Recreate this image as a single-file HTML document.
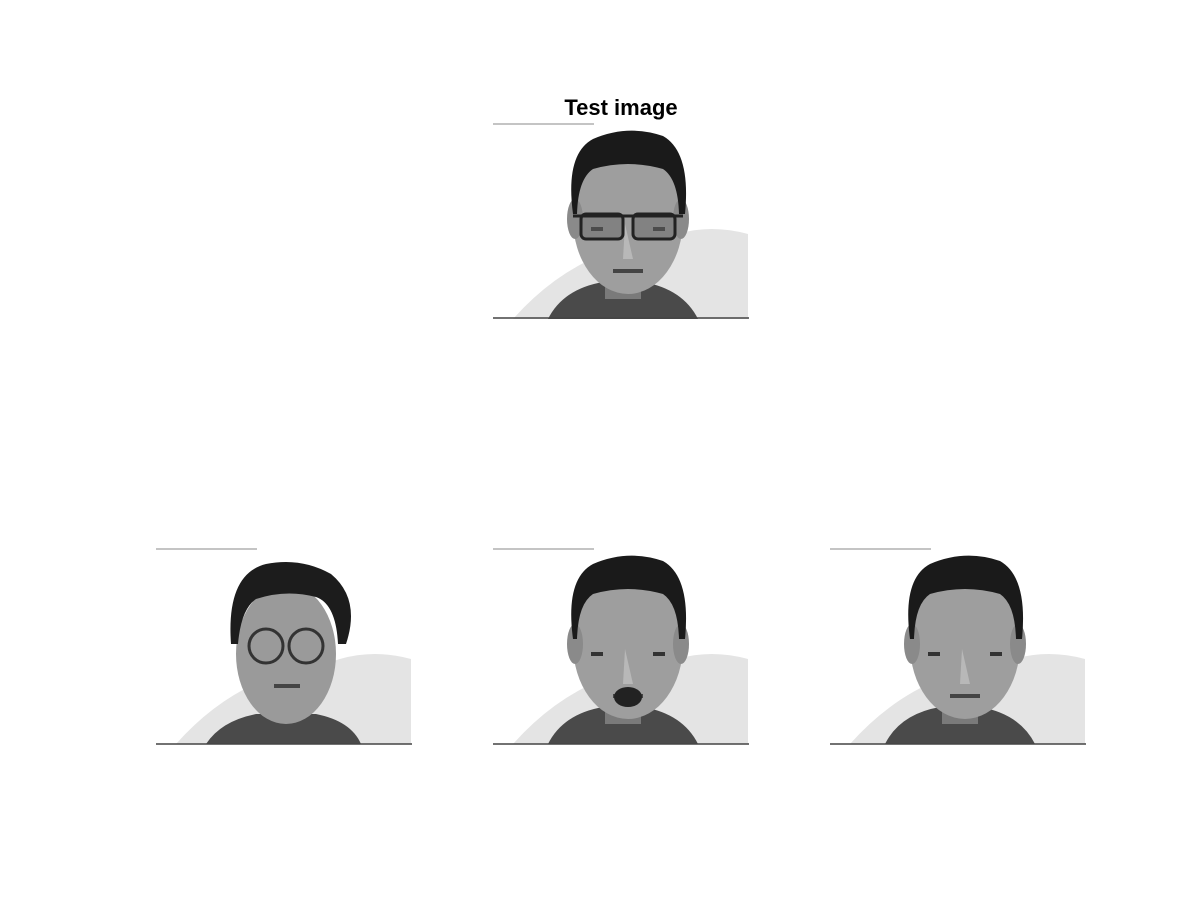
<!DOCTYPE html>
<html><head><style>
body{margin:0;background:#fff;width:1200px;height:900px;overflow:hidden;font-family:"Liberation Sans",sans-serif}
</style></head><body>
<svg width="1200" height="900" viewBox="0 0 1200 900" xmlns="http://www.w3.org/2000/svg">
<defs>
<g id="bg">
<path d="M20 195 Q60 150 110 130 L150 125 Q200 95 255 110 L255 195Z" fill="#e4e4e4"/>
</g>
<g id="man">
<use href="#bg"/>
<path d="M55 195 Q70 165 110 158 L150 158 Q190 165 205 195Z" fill="#4a4a4a"/>
<rect x="112" y="150" width="36" height="25" fill="#7a7a7a"/>
<ellipse cx="135" cy="95" rx="55" ry="75" fill="#9e9e9e"/>
<ellipse cx="82" cy="95" rx="8" ry="20" fill="#8a8a8a"/>
<ellipse cx="188" cy="95" rx="8" ry="20" fill="#8a8a8a"/>
<path d="M80 90 Q72 30 100 15 Q135 0 170 12 Q198 28 192 90 L186 90 Q185 55 170 45 Q135 35 100 45 Q85 55 84 90Z" fill="#1a1a1a"/>
<rect x="98" y="103" width="12" height="4" fill="#333"/>
<rect x="160" y="103" width="12" height="4" fill="#333"/>
<path d="M132 100 L130 135 L140 135Z" fill="#b8b8b8"/>
<rect x="120" y="145" width="30" height="4" fill="#444"/>
</g>
<g id="glasses">
<rect x="88" y="90" width="42" height="25" rx="5" fill="#666" fill-opacity="0.5" stroke="#222" stroke-width="3"/>
<rect x="140" y="90" width="42" height="25" rx="5" fill="#666" fill-opacity="0.5" stroke="#222" stroke-width="3"/>
<line x1="80" y1="92" x2="190" y2="92" stroke="#222" stroke-width="3"/>
</g>
</defs>

<text x="621" y="115" font-size="22" font-weight="bold" text-anchor="middle" fill="#000">Test image</text>

<g transform="translate(493,124)">
<use href="#man"/><use href="#glasses"/>
<line x1="0" y1="0" x2="101" y2="0" stroke="#888" stroke-width="1"/>
<line x1="0" y1="194" x2="256" y2="194" stroke="#444" stroke-width="1.5"/>
</g>

<g transform="translate(156,549)">
<use href="#bg"/>
<path d="M50 195 Q65 172 100 165 L160 165 Q195 172 205 195Z" fill="#4a4a4a"/>
<ellipse cx="130" cy="105" rx="50" ry="70" fill="#9a9a9a"/>
<path d="M75 95 Q70 25 110 15 Q145 8 175 25 Q205 50 190 95 L182 95 Q180 55 160 48 Q130 40 100 50 Q85 60 82 95Z" fill="#1c1c1c"/>
<circle cx="110" cy="97" r="17" fill="none" stroke="#333" stroke-width="3"/>
<circle cx="150" cy="97" r="17" fill="none" stroke="#333" stroke-width="3"/>
<rect x="118" y="135" width="26" height="4" fill="#444"/>
<line x1="0" y1="0" x2="101" y2="0" stroke="#888" stroke-width="1"/>
<line x1="0" y1="195" x2="256" y2="195" stroke="#444" stroke-width="1.5"/>
</g>

<g transform="translate(493,549)">
<use href="#man"/>
<ellipse cx="135" cy="148" rx="14" ry="10" fill="#222"/>
<line x1="0" y1="0" x2="101" y2="0" stroke="#888" stroke-width="1"/>
<line x1="0" y1="195" x2="256" y2="195" stroke="#444" stroke-width="1.5"/>
</g>

<g transform="translate(830,549)">
<use href="#man"/>
<line x1="0" y1="0" x2="101" y2="0" stroke="#888" stroke-width="1"/>
<line x1="0" y1="195" x2="256" y2="195" stroke="#444" stroke-width="1.5"/>
</g>
</svg>
</body></html>
